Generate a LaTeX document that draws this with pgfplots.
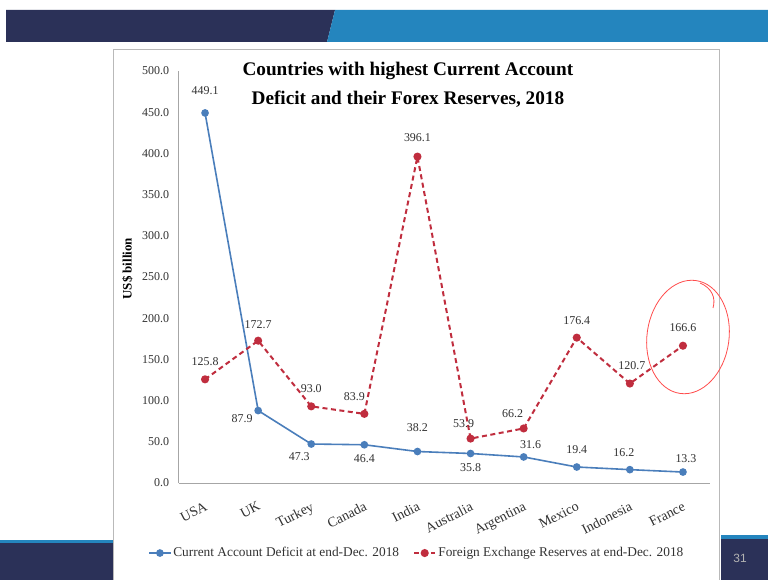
\documentclass[border=0pt]{standalone}
\usepackage{pgfplots}
\pgfplotsset{compat=1.18}
\usepackage{fontspec}
\setmainfont{Liberation Serif}
\newfontfamily\sansf{Liberation Sans}
\definecolor{cadblue}{RGB}{74,126,187}
\definecolor{fxred}{RGB}{192,45,62}
\definecolor{navy}{RGB}{43,49,88}
\definecolor{bannerblue}{RGB}{36,133,190}
\definecolor{lblgray}{RGB}{50,50,50}
\begin{document}
\begin{tikzpicture}[x=1bp,y=1bp]
% slide background and decorations
\fill[white] (0,0) rectangle (768,580);
\fill[navy] (6,538) -- (6,570) -- (335,570) -- (327,538) -- cycle;
\fill[bannerblue] (335,570) -- (768,570) -- (768,538) -- (327,538) -- cycle;
\fill[navy] (0,0) rectangle (113,40);
\fill[bannerblue] (0,37) rectangle (113,40);
\fill[navy] (721,0) rectangle (768,45);
\fill[bannerblue] (721,41) rectangle (768,45);
\node[text=gray!60, font=\sansf\fontsize{12}{14}\selectfont] at (740,22) {31};
\draw[gray!55, line width=1bp] (113,0) -- (113,530) -- (719,530) -- (719,0);

\begin{axis}[
  at={(178.5bp,97bp)}, anchor=south west,
  scale only axis, width=531bp, height=412bp,
  xmin=-0.5, xmax=9.5, ymin=0, ymax=500,
  axis x line*=bottom, axis y line*=left,
  axis line style={gray!70, line width=0.8bp, -},
  xtick={0,...,9},
  xticklabels={USA,UK,Turkey,Canada,India,Australia,Argentina,Mexico,Indonesia,France},
  ytick={0,50,...,500},
  tick style={draw=none},
  /pgf/number format/.cd, fixed, fixed zerofill, precision=1, 1000 sep={}, assume math mode=true,
  /pgfplots/.cd,
  tick label style={font=\fontsize{12}{14}\selectfont, text=lblgray},
  yticklabel style={xshift=-6bp},
  xticklabel style={font=\fontsize{14}{16}\selectfont, xshift=-1bp, yshift=-18bp,
    rotate=27, anchor=north east, inner sep=0pt},
  title={Countries with highest Current Account\\Deficit and their Forex Reserves, 2018},
  title style={at={(axis description cs:0.432,0.951)}, anchor=center, align=center,
    font=\bfseries\fontsize{19.3}{29}\selectfont},
  ylabel={US\$ billion},
  ylabel style={at={(axis description cs:-0.096,0.52)}, anchor=center,
    font=\bfseries\fontsize{13}{15}\selectfont},
  legend style={at={(axis description cs:0.449,-0.170)}, anchor=center, draw=none, fill=none,
    font=\fontsize{13.4}{15}\selectfont, text=lblgray,
    /tikz/every even column/.append style={column sep=12bp}},
  legend columns=2,
  legend image code/.code={
    \draw[#1] (0cm,0cm) -- (0.75cm,0cm);
    \draw[#1, solid] plot coordinates {(0.375cm,0cm)};
  },
  clip=false,
]
\addplot[cadblue, line width=1.6bp, mark=*, mark size=3bp,
  nodes near coords, point meta=explicit symbolic,
  visualization depends on={value \thisrow{dx}\as\dx},
  visualization depends on={value \thisrow{dy}\as\dy},
  nodes near coords style={anchor=center, xshift=\dx bp, yshift=\dy bp,
    font=\fontsize{12}{14}\selectfont, text=lblgray, inner sep=0pt}]
  table[x=x, y=y, meta=lab] {
x y lab dx dy
0 449.1 449.1 0 22
1 87.9 87.9 -16 -8
2 47.3 47.3 -12 -13
3 46.4 46.4 0 -14
4 38.2 38.2 0 24
5 35.8 35.8 0 -14
6 31.6 31.6 7 12
7 19.4 19.4 0 17
8 16.2 16.2 -6 17
9 13.3 13.3 3 13
};
\addlegendentry{Current Account Deficit at end-Dec. 2018}
\addplot[fxred, line width=2bp, dash pattern=on 5bp off 3.5bp, mark=*, mark size=3bp,
  mark options={solid},
  nodes near coords, point meta=explicit symbolic,
  visualization depends on={value \thisrow{dx}\as\dx},
  visualization depends on={value \thisrow{dy}\as\dy},
  nodes near coords style={anchor=center, xshift=\dx bp, yshift=\dy bp,
    font=\fontsize{12}{14}\selectfont, text=lblgray, inner sep=0pt}]
  table[x=x, y=y, meta=lab] {
x y lab dx dy
0 125.8 125.8 0 18
1 172.7 172.7 0 16
2 93.0 93.0 0 18
3 83.9 83.9 -10 17
4 396.1 396.1 0 19
5 53.9 53.9 -7 15
6 66.2 66.2 -11 15
7 176.4 176.4 0 17
8 120.7 120.7 2 18
9 166.6 166.6 0 18
};
\addlegendentry{Foreign Exchange Reserves at end-Dec. 2018}
\end{axis}
% hand-drawn annotation circle on the slide
\draw[red!60!pink, line width=0.8bp, rotate around={-8:(688,243)}] (688,243) ellipse [x radius=41, y radius=57];
\draw[red!60!pink, line width=0.8bp] (700,297) .. controls (712,292) and (716,282) .. (713,272);
\end{tikzpicture}
\end{document}
